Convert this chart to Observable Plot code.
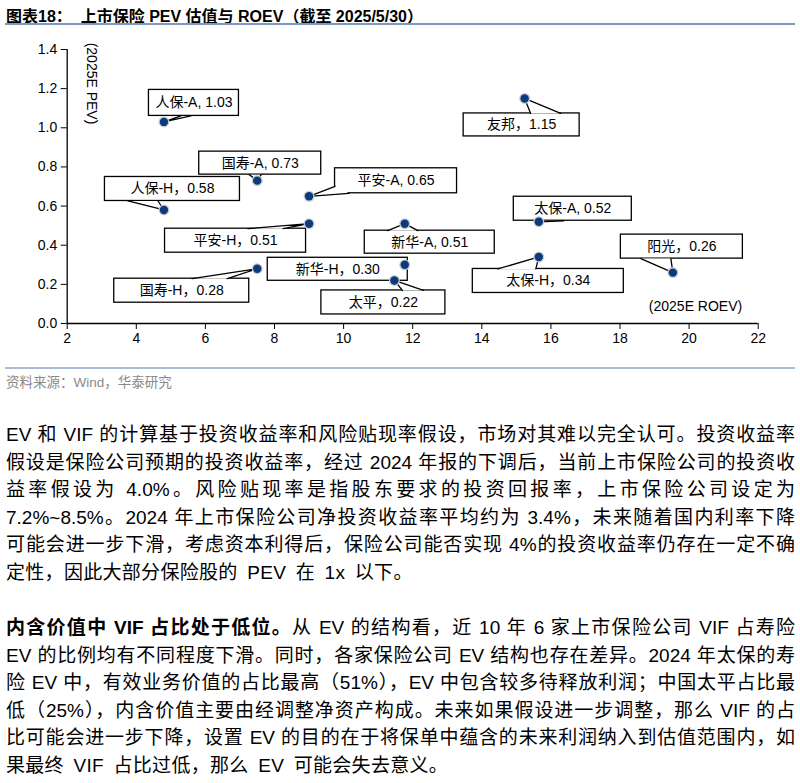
<!DOCTYPE html>
<html>
<head>
<meta charset="utf-8">
<script src="https://cdn.jsdelivr.net/npm/d3@7"></script>
<script src="https://cdn.jsdelivr.net/npm/@observablehq/plot@0.6"></script>
<style>
  html, body { margin: 0; padding: 0; background: #fff; width: 800px; height: 783px; overflow: hidden; }
  body { position: relative; font-family: "Liberation Sans", "Noto Sans CJK SC", sans-serif; color: #000; }
  #title { position: absolute; left: 6px; top: 3px; font-size: 16px; font-weight: bold; white-space: nowrap; }
  #tline { position: absolute; left: 5px; top: 23px; width: 790px; height: 1.5px; background: #7b98c4; }
  #chart { position: absolute; left: 0; top: 25px; }
  #fline { position: absolute; left: 5px; top: 367px; width: 790px; height: 1.5px; background: #a9bbd5; }
  #source { position: absolute; left: 6px; top: 371px; font-size: 13.5px; color: #8a8a8a; white-space: nowrap; }
  .para { position: absolute; left: 6px; width: 789px; font-size: 19px; line-height: 27.5px; }
  .ln { white-space: nowrap; text-align: justify; text-align-last: justify; }
  .ln.last { text-align: left; text-align-last: left; word-spacing: 4px; letter-spacing: 0.3px; }
</style>
</head>
<body>
<div id="title">图表18：&nbsp;&nbsp;上市保险 PEV 估值与 ROEV（截至 2025/5/30）</div>
<div id="tline"></div>
<div id="chart"></div>
<div id="fline"></div>
<div id="source">资料来源：Wind，华泰研究</div>
<div class="para" id="p1" style="top:421px"></div>
<div class="para" id="p2" style="top:614px"></div>
<script>
// ---- data ----
const names = ["人保-A", "国寿-A", "人保-H", "平安-A", "平安-H", "国寿-H", "新华-A", "新华-H", "太平", "友邦", "太保-A", "太保-H", "阳光"];
const roev  = [4.8, 7.5, 4.8, 9.0, 9.0, 7.5, 11.77, 11.77, 11.47, 15.24, 15.65, 15.65, 19.53];
const pev   = [1.03, 0.73, 0.58, 0.65, 0.51, 0.28, 0.51, 0.30, 0.22, 1.15, 0.52, 0.34, 0.26];
const seps  = [", ", ", ", "，", ", ", "，", "，", ", ", "，", "，", "，", ", ", "，", "，"];
const xTicks = [2, 4, 6, 8, 10, 12, 14, 16, 18, 20, 22];
const yTicks = [0, 0.2, 0.4, 0.6, 0.8, 1.0, 1.2, 1.4];

// callout layout (pixel offsets from each point): box left/right/top/bottom, wedge base points
const boxL = [-15, -58, -59, 26, -144, -143, -40, -137, -73, -61, -25, -66, -52];
const boxR = [75, 64, 76, 148, -3, -8, 90, 3, 51, 55, 93, 85, 70];
const boxT = [-32, -29, -33, -28, 5, 10, 7, -7, 10, 15, -25, 12, -38];
const boxB = [-6, -6, -9, -3, 29, 34, 30, 16, 34, 38, -1, 36, -14];
const wedge = [
  [[17, -6], [27, -6]],
  [[-8, -6], [4, -6]],
  [[-36, -9], [-6, -9]],
  [[26, -10], [40, -3]],
  [[-61, 5], [-26, 5]],
  [[-65, 10], [-30, 10]],
  [[-17, 7], [13, 7]],
  [[0, 0], [0, 0]],
  [[8, 10], [29, 10]],
  [[6, 15], [36, 15]],
  [[3, -1], [25, -1]],
  [[-41, 12], [-3, 12]],
  [[-32, -14], [-2, -14]]
];

// ---- layout ----
const W = 800, H = 340, mt = 24, mb = 42, ml = 66.7, mr = 42.3;
const kx = (xTicks[xTicks.length - 1] - xTicks[0]) / (W - ml - mr);
const ky = (yTicks[yTicks.length - 1] - yTicks[0]) / (H - mt - mb);

const points = names.map((n, i) => ({name: n, x: roev[i], y: pev[i], text: n + seps[i] + pev[i].toFixed(2), i}));
const wedgePts = points.flatMap(p => {
  const w = wedge[p.i];
  return [
    {k: p.i, x: p.x + w[0][0] * kx, y: p.y - w[0][1] * ky},
    {k: p.i, x: p.x, y: p.y},
    {k: p.i, x: p.x + w[1][0] * kx, y: p.y - w[1][1] * ky}
  ];
});

const chart = Plot.plot({
  width: W, height: H,
  marginTop: mt, marginBottom: mb, marginLeft: ml, marginRight: mr,
  style: {fontFamily: '"Liberation Sans", "Noto Sans CJK SC", sans-serif', fontSize: "14px", color: "#000", background: "#fff", overflow: "visible"},
  x: {domain: [2, 22], ticks: xTicks, tickSize: 6, tickPadding: 4, tickFormat: d => String(d), label: null},
  y: {domain: [0, 1.4], ticks: yTicks, tickSize: 6, tickPadding: 4, tickFormat: d3.format(".1f"), label: null},
  marks: [
    Plot.ruleX([2], {y1: 0, y2: 1.4, stroke: "#000", strokeWidth: 1.3}),
    Plot.ruleY([0], {x1: 2, x2: 22, stroke: "#000", strokeWidth: 1.3}),
    Plot.rect(points, {
      x1: d => d.x + boxL[d.i] * kx, x2: d => d.x + boxR[d.i] * kx,
      y1: d => d.y - boxT[d.i] * ky, y2: d => d.y - boxB[d.i] * ky,
      fill: "#fff", stroke: "#000", strokeWidth: 1.3
    }),
    Plot.line(wedgePts, {x: "x", y: "y", z: "k", fill: "#fff", stroke: "#000", strokeWidth: 1.3, curve: "linear"}),
    Plot.text(points, {
      x: d => d.x + (boxL[d.i] + boxR[d.i]) / 2 * kx,
      y: d => d.y - (boxT[d.i] + boxB[d.i]) / 2 * ky,
      text: "text", fontSize: 14, fill: "#000"
    }),
    Plot.dot(points, {x: "x", y: "y", r: 5.5, fill: "#c8ccd2", stroke: "none"}),
    Plot.dot(points, {x: "x", y: "y", r: 4.2, fill: "#0b3b7c", stroke: "none"}),
    Plot.text(["(2025E PEV)"], {frameAnchor: "top-left", dx: 30, dy: 34, rotate: 90, textAnchor: "middle", fontSize: 14, fill: "#000"}),
    Plot.text(["(2025E ROEV)"], {frameAnchor: "bottom-right", dx: -16, dy: -13, textAnchor: "end", fontSize: 14, fill: "#000"})
  ]
});
document.getElementById("chart").appendChild(chart);

// ---- body text ----
const p1Lines = [
  "EV 和 VIF 的计算基于投资收益率和风险贴现率假设，市场对其难以完全认可。投资收益率",
  "假设是保险公司预期的投资收益率，经过 2024 年报的下调后，当前上市保险公司的投资收",
  "益率假设为 4.0%。风险贴现率是指股东要求的投资回报率，上市保险公司设定为",
  "7.2%~8.5%。2024 年上市保险公司净投资收益率平均约为 3.4%，未来随着国内利率下降",
  "可能会进一步下滑，考虑资本利得后，保险公司能否实现 4%的投资收益率仍存在一定不确",
  "定性，因此大部分保险股的 PEV 在 1x 以下。"
];
const p2Bold = "内含价值中 VIF 占比处于低位。";
const p2Lines = [
  "从 EV 的结构看，近 10 年 6 家上市保险公司 VIF 占寿险",
  "EV 的比例均有不同程度下滑。同时，各家保险公司 EV 结构也存在差异。2024 年太保的寿",
  "险 EV 中，有效业务价值的占比最高（51%），EV 中包含较多待释放利润；中国太平占比最",
  "低（25%），内含价值主要由经调整净资产构成。未来如果假设进一步调整，那么 VIF 的占",
  "比可能会进一步下降，设置 EV 的目的在于将保单中蕴含的未来利润纳入到估值范围内，如",
  "果最终 VIF 占比过低，那么 EV 可能会失去意义。"
];
function fill(id, lines, boldLead) {
  const el = document.getElementById(id);
  lines.forEach((t, i) => {
    const d = document.createElement("div");
    d.className = "ln" + (i === lines.length - 1 ? " last" : "");
    if (i === 0 && boldLead) {
      const b = document.createElement("b");
      b.textContent = boldLead;
      d.appendChild(b);
    }
    d.appendChild(document.createTextNode(t));
    el.appendChild(d);
  });
}
fill("p1", p1Lines);
fill("p2", p2Lines, p2Bold);
</script>
</body>
</html>
